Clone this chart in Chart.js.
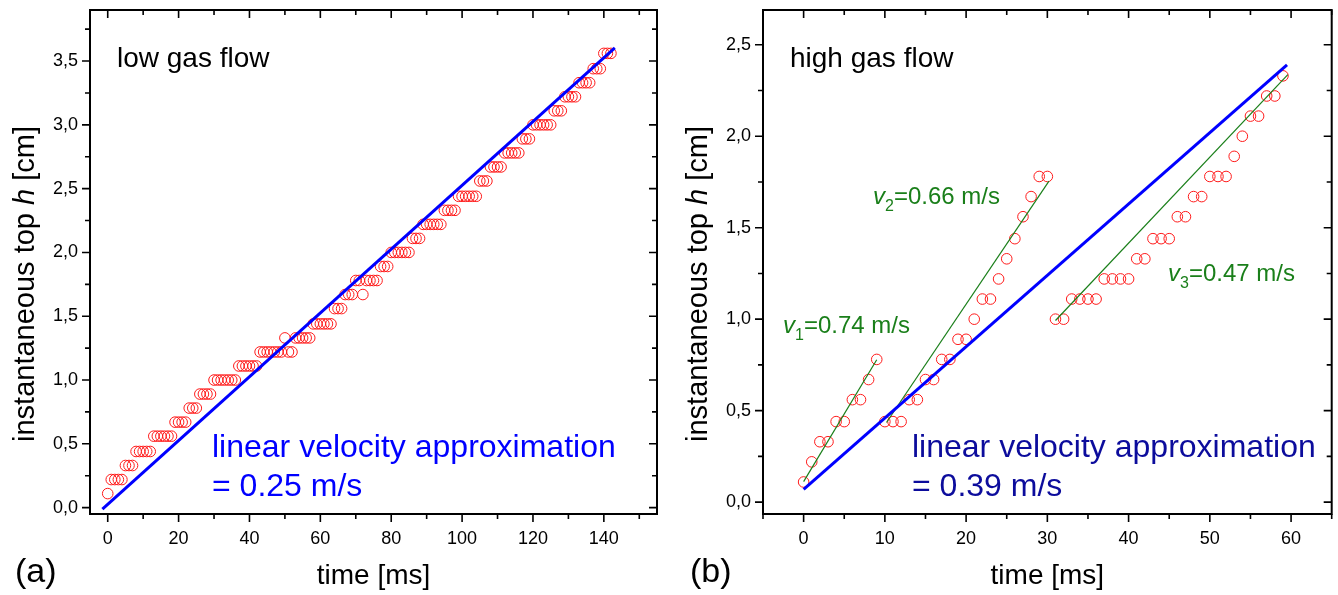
<!DOCTYPE html>
<html>
<head>
<meta charset="utf-8">
<title>Instantaneous top height vs time</title>
<script src="https://cdn.jsdelivr.net/npm/chart.js@4.4.1/dist/chart.umd.min.js"></script>
<style>
  html, body { margin: 0; padding: 0; background: #fff; }
  #wrap { position: relative; width: 1338px; height: 595px; overflow: hidden; }
  canvas { position: absolute; top: 0; }
  #panelA { left: 0; }
  #panelB { left: 669px; }
</style>
</head>
<body>
<div id="wrap">
  <canvas id="panelA" width="669" height="595"></canvas>
  <canvas id="panelB" width="669" height="595"></canvas>
</div>
<script>
// (a) low gas flow, one frame per ms
const timeLow = [
  0, 1, 2, 3, 4, 5, 6, 7, 8, 9,
  10, 11, 12, 13, 14, 15, 16, 17, 18, 19,
  20, 21, 22, 23, 24, 25, 26, 27, 28, 29,
  30, 31, 32, 33, 34, 35, 36, 37, 38, 39,
  40, 41, 42, 43, 44, 45, 46, 47, 48, 49,
  50, 51, 52, 53, 54, 55, 56, 57, 58, 59,
  60, 61, 62, 63, 64, 65, 66, 67, 68, 69,
  70, 71, 72, 73, 74, 75, 76, 77, 78, 79,
  80, 81, 82, 83, 84, 85, 86, 87, 88, 89,
  90, 91, 92, 93, 94, 95, 96, 97, 98, 99,
  100, 101, 102, 103, 104, 105, 106, 107, 108, 109,
  110, 111, 112, 113, 114, 115, 116, 117, 118, 119,
  120, 121, 122, 123, 124, 125, 126, 127, 128, 129,
  130, 131, 132, 133, 134, 135, 136, 137, 138, 139,
  140, 141, 142
];
const heightLow = [
  0.11, 0.22, 0.22, 0.22, 0.22, 0.33, 0.33, 0.33, 0.44, 0.44,
  0.44, 0.44, 0.44, 0.56, 0.56, 0.56, 0.56, 0.56, 0.56, 0.67,
  0.67, 0.67, 0.67, 0.78, 0.78, 0.78, 0.89, 0.89, 0.89, 0.89,
  1.00, 1.00, 1.00, 1.00, 1.00, 1.00, 1.00, 1.11, 1.11, 1.11,
  1.11, 1.11, 1.11, 1.22, 1.22, 1.22, 1.22, 1.22, 1.22, 1.22,
  1.33, 1.22, 1.22, 1.33, 1.33, 1.33, 1.33, 1.33, 1.44, 1.44,
  1.44, 1.44, 1.44, 1.44, 1.56, 1.56, 1.56, 1.67, 1.67, 1.67,
  1.78, 1.78, 1.67, 1.78, 1.78, 1.78, 1.78, 1.89, 1.89, 1.89,
  2.00, 2.00, 2.00, 2.00, 2.00, 2.00, 2.11, 2.11, 2.11, 2.22,
  2.22, 2.22, 2.22, 2.22, 2.22, 2.33, 2.33, 2.33, 2.33, 2.44,
  2.44, 2.44, 2.44, 2.44, 2.44, 2.56, 2.56, 2.56, 2.67, 2.67,
  2.67, 2.67, 2.78, 2.78, 2.78, 2.78, 2.78, 2.89, 2.89, 2.89,
  3.00, 3.00, 3.00, 3.00, 3.00, 3.00, 3.11, 3.11, 3.11, 3.22,
  3.22, 3.22, 3.22, 3.33, 3.33, 3.33, 3.33, 3.44, 3.44, 3.44,
  3.56, 3.56, 3.56
];

// (b) high gas flow
const timeHigh = [
  0, 1, 2, 3, 4, 5, 6, 7, 8, 9,
  10, 11, 12, 13, 14, 15, 16, 17, 18, 19,
  20, 21, 22, 23, 24, 25, 26, 27, 28, 29,
  30, 31, 32, 33, 34, 35, 36, 37, 38, 39,
  40, 41, 42, 43, 44, 45, 46, 47, 48, 49,
  50, 51, 52, 53, 54, 55, 56, 57, 58, 59
];
const heightHigh = [
  0.11, 0.22, 0.33, 0.33, 0.44, 0.44, 0.56, 0.56, 0.67, 0.78,
  0.44, 0.44, 0.44, 0.56, 0.56, 0.67, 0.67, 0.78, 0.78, 0.89,
  0.89, 1.00, 1.11, 1.11, 1.22, 1.33, 1.44, 1.56, 1.67, 1.78,
  1.78, 1.00, 1.00, 1.11, 1.11, 1.11, 1.11, 1.22, 1.22, 1.22,
  1.22, 1.33, 1.33, 1.44, 1.44, 1.44, 1.56, 1.56, 1.67, 1.67,
  1.78, 1.78, 1.78, 1.89, 2.00, 2.11, 2.11, 2.22, 2.22, 2.33
];

// fitted velocities [m/s]
const velocityLow = 0.25;
const velocityHigh = 0.39;
const stageVelocity = [0.74, 0.66, 0.47];

// each fit: time span [ms] and one point [ms, cm] the line passes through
const fitLowSpan = [-1.5, 143.1];
const fitLowAnchor = [71, 1.80];
const fitHighSpan = [0, 59.5];
const fitHighAnchor = [29.75, 1.23];
const stageSpan = [[0, 9], [10.2, 30.2], [31, 59.6]];
const stageAnchor = [[4.5, 0.445], [20.2, 1.095], [45.3, 1.665]];

// tick labels
const ticksLowX = [0, 20, 40, 60, 80, 100, 120, 140];
const ticksLowY = [0, 0.5, 1.0, 1.5, 2.0, 2.5, 3.0, 3.5];
const ticksHighX = [0, 10, 20, 30, 40, 50, 60];
const ticksHighY = [0, 0.5, 1.0, 1.5, 2.0, 2.5];

const FONT = '"Liberation Sans", Arial, Helvetica, sans-serif';
const RED = '#ff1a1a';
const BLUE = '#0000ff';
const NAVY = '#0c0c9c';
const GREEN = '#1a7f1a';

// straight line through anchor with the given velocity (m/s -> cm/ms)
function fitLine(span, anchor, v) {
  const k = v * 0.1;
  return span.map(t => ({ x: t, y: anchor[1] + k * (t - anchor[0]) }));
}

function points(xs, ys) {
  return xs.map((x, i) => ({ x: x, y: ys[i] }));
}

function commaLabel(v) {
  return v.toFixed(1).replace('.', ',');
}

// text made of runs: {t, it, sub}
function drawRuns(ctx, runs, x, y, size, color, align) {
  let total = 0;
  const parts = runs.map(r => {
    const fs = r.sub ? Math.round(size * 0.68) : size;
    const font = (r.it ? 'italic ' : '') + fs + 'px ' + FONT;
    ctx.font = font;
    const w = ctx.measureText(r.t).width;
    total += w;
    return { r: r, font: font, w: w };
  });
  let cx = align === 'center' ? x - total / 2 : x;
  ctx.fillStyle = color;
  ctx.textAlign = 'left';
  ctx.textBaseline = 'alphabetic';
  parts.forEach(p => {
    ctx.font = p.font;
    ctx.fillText(p.r.t, cx, y + (p.r.sub ? size * 0.3 : 0));
    cx += p.w;
  });
}

// box frame with Origin-style ticks: outward on left/bottom, inward on top/right
const framePlugin = {
  id: 'frame',
  afterDraw(chart, args, opts) {
    const { ctx, chartArea: a, scales: { x, y } } = chart;
    ctx.save();
    ctx.strokeStyle = '#000';
    ctx.lineWidth = 1.6;
    ctx.beginPath();
    const each = (scale, step, major, fn) => {
      const n = Math.round(major / step);
      for (let i = Math.ceil(scale.min / step - 1e-9); i * step <= scale.max + 1e-9; i++) {
        fn(scale.getPixelForValue(i * step), i % n === 0 ? 8 : 5);
      }
    };
    each(x, opts.xMinor, opts.xMajor, (px, len) => {
      ctx.moveTo(px, a.bottom); ctx.lineTo(px, a.bottom + len);
      ctx.moveTo(px, a.top); ctx.lineTo(px, a.top + len);
    });
    each(y, opts.yMinor, opts.yMajor, (py, len) => {
      ctx.moveTo(a.left, py); ctx.lineTo(a.left - len, py);
      ctx.moveTo(a.right, py); ctx.lineTo(a.right - len, py);
    });
    ctx.stroke();
    ctx.lineWidth = 2;
    ctx.strokeRect(a.left, a.top, a.right - a.left, a.bottom - a.top);
    ctx.restore();
  }
};

const textPlugin = {
  id: 'panelText',
  afterDraw(chart, args, opts) {
    const { ctx, chartArea: a } = chart;
    ctx.save();
    opts.items.forEach(it => drawRuns(ctx, it.runs, it.x, it.y, it.size, it.color || '#000', it.align));
    // axis titles
    drawRuns(ctx, [{ t: 'time [ms]' }], (a.left + a.right) / 2, 584, 28, '#000', 'center');
    ctx.translate(opts.yTitleX, 284);
    ctx.rotate(-Math.PI / 2);
    drawRuns(ctx, [{ t: 'instantaneous top ' }, { t: 'h', it: true }, { t: ' [cm]' }], 0, 0, 29, '#000', 'center');
    ctx.restore();
  }
};

function makePanel(id, p) {
  const datasets = p.lines.map(l => ({
    data: l.data,
    showLine: true,
    borderColor: l.color,
    borderWidth: l.width,
    pointRadius: 0,
    fill: false,
    order: 0
  }));
  datasets.push({
    data: p.points,
    showLine: false,
    pointStyle: 'circle',
    pointRadius: 5.3,
    borderColor: RED,
    borderWidth: 1,
    backgroundColor: 'rgba(0,0,0,0)',
    order: 1
  });

  return new Chart(document.getElementById(id), {
    type: 'scatter',
    data: { datasets: datasets },
    options: {
      responsive: false,
      animation: false,
      devicePixelRatio: 1,
      layout: { padding: { left: 0, top: 10, right: p.padRight, bottom: 0 } },
      plugins: {
        legend: { display: false },
        tooltip: { enabled: false },
        frame: p.frame,
        panelText: { items: p.texts, yTitleX: p.yTitleX }
      },
      scales: {
        x: {
          type: 'linear',
          min: p.xRange[0],
          max: p.xRange[1],
          grid: { display: false, drawTicks: false },
          border: { display: false },
          afterBuildTicks: s => { s.ticks = p.xTicks.map(v => ({ value: v })); },
          afterFit: s => { s.height = 81; s.paddingLeft = 0; s.paddingRight = 0; },
          ticks: {
            padding: 14,
            maxRotation: 0,
            color: '#000',
            font: { family: FONT, size: 18 },
            callback: v => String(v)
          }
        },
        y: {
          type: 'linear',
          min: p.yRange[0],
          max: p.yRange[1],
          grid: { display: false, drawTicks: false },
          border: { display: false },
          afterBuildTicks: s => { s.ticks = p.yTicks.map(v => ({ value: v })); },
          afterFit: s => { s.width = p.yWidth; s.paddingTop = 0; s.paddingBottom = 0; },
          ticks: {
            padding: 12,
            color: '#000',
            font: { family: FONT, size: 18 },
            callback: v => commaLabel(v)
          }
        }
      }
    },
    plugins: [framePlugin, textPlugin]
  });
}

makePanel('panelA', {
  points: points(timeLow, heightLow),
  lines: [
    { data: fitLine(fitLowSpan, fitLowAnchor, velocityLow), color: BLUE, width: 3 }
  ],
  xRange: [-5, 155],
  yRange: [-0.05, 3.9],
  xTicks: ticksLowX,
  yTicks: ticksLowY,
  yWidth: 90,
  padRight: 12,
  yTitleX: 34,
  frame: { xMajor: 20, xMinor: 10, yMajor: 0.5, yMinor: 0.25 },
  texts: [
    { runs: [{ t: 'low gas flow' }], x: 117, y: 67, size: 28 },
    { runs: [{ t: 'linear velocity approximation' }], x: 212, y: 457, size: 32, color: BLUE },
    { runs: [{ t: '= ' + velocityLow.toFixed(2) + ' m/s' }], x: 212, y: 496, size: 32, color: BLUE },
    { runs: [{ t: '(a)' }], x: 15, y: 582, size: 34 }
  ]
});

const stageLines = stageVelocity.map((v, i) => ({
  data: fitLine(stageSpan[i], stageAnchor[i], v), color: GREEN, width: 1.2
}));

makePanel('panelB', {
  points: points(timeHigh, heightHigh),
  lines: [{ data: fitLine(fitHighSpan, fitHighAnchor, velocityHigh), color: BLUE, width: 3 }].concat(stageLines),
  xRange: [-5, 65],
  yRange: [-0.065, 2.69],
  xTicks: ticksHighX,
  yTicks: ticksHighY,
  yWidth: 94,
  padRight: 6,
  yTitleX: 38,
  frame: { xMajor: 10, xMinor: 5, yMajor: 0.5, yMinor: 0.25 },
  texts: [
    { runs: [{ t: 'high gas flow' }], x: 121, y: 67, size: 28 },
    { runs: [{ t: 'v', it: true }, { t: '1', sub: true }, { t: '=' + stageVelocity[0].toFixed(2) + ' m/s' }], x: 114, y: 333, size: 24, color: GREEN },
    { runs: [{ t: 'v', it: true }, { t: '2', sub: true }, { t: '=' + stageVelocity[1].toFixed(2) + ' m/s' }], x: 204, y: 204, size: 24, color: GREEN },
    { runs: [{ t: 'v', it: true }, { t: '3', sub: true }, { t: '=' + stageVelocity[2].toFixed(2) + ' m/s' }], x: 499, y: 281, size: 24, color: GREEN },
    { runs: [{ t: 'linear velocity approximation' }], x: 243, y: 457, size: 32, color: NAVY },
    { runs: [{ t: '= ' + velocityHigh.toFixed(2) + ' m/s' }], x: 243, y: 496, size: 32, color: NAVY },
    { runs: [{ t: '(b)' }], x: 21, y: 582, size: 34 }
  ]
});
</script>
</body>
</html>
